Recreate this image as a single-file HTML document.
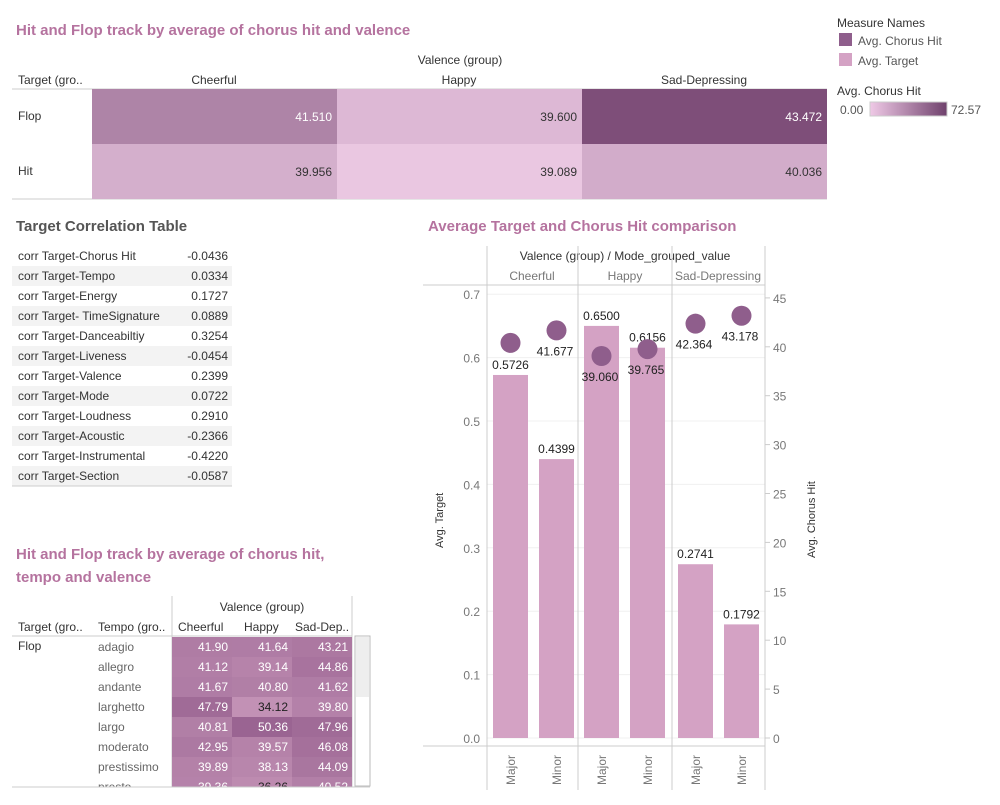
<!DOCTYPE html>
<html><head><meta charset="utf-8"><style>
body{margin:0;background:#fff;font-family:"Liberation Sans",sans-serif;}
svg text{font-family:"Liberation Sans",sans-serif;}
</style></head><body>
<svg width="1000" height="800" xmlns="http://www.w3.org/2000/svg">
<defs><linearGradient id="lg" x1="0" x2="1"><stop offset="0" stop-color="#efc9e6"/><stop offset="1" stop-color="#6f416c"/></linearGradient>
<clipPath id="tclip"><rect x="0" y="636" width="360" height="151"/></clipPath></defs>
<g id="top">
<text x="16" y="35" font-size="15" font-weight="bold" fill="#b5739f">Hit and Flop track by average of chorus hit  and valence</text>
<text x="460" y="64" font-size="12" fill="#333" text-anchor="middle">Valence (group)</text>
<text x="18" y="84" font-size="12" fill="#333">Target (gro..</text>
<line x1="12" y1="89" x2="827" y2="89" stroke="#ccc"/>
<line x1="12" y1="199" x2="827" y2="199" stroke="#ccc"/>
</g>
<g id="legend">
<text x="837" y="27" font-size="12" fill="#333">Measure Names</text>
<rect x="839" y="33" width="13" height="13" fill="#8f5e8c"/>
<text x="858" y="45" font-size="12" fill="#555">Avg. Chorus Hit</text>
<rect x="839" y="53" width="13" height="13" fill="#d4a2c4"/>
<text x="858" y="65" font-size="12" fill="#555">Avg. Target</text>
<text x="837" y="95" font-size="12" fill="#333">Avg. Chorus Hit</text>
<text x="840" y="114" font-size="12" fill="#555">0.00</text>
<rect x="870" y="102" width="77" height="14" fill="url(#lg)" stroke="#ccc"/>
<text x="951" y="114" font-size="12" fill="#555">72.57</text>
</g>
<g id="corr">
<text x="16" y="231" font-size="15" font-weight="bold" fill="#555">Target Correlation Table</text>
</g>
<g id="tempo">
<text x="16" y="559" font-size="15" font-weight="bold" fill="#b5739f">Hit and Flop track by average of chorus hit,</text>
<text x="16" y="582" font-size="15" font-weight="bold" fill="#b5739f">tempo  and valence</text>
<line x1="172" y1="596" x2="172" y2="787" stroke="#ccc"/>
<line x1="352" y1="596" x2="352" y2="787" stroke="#ccc"/>
<text x="262" y="611" font-size="12" fill="#333" text-anchor="middle">Valence (group)</text>
<text x="18" y="631" font-size="12" fill="#333">Target (gro..</text>
<text x="98" y="631" font-size="12" fill="#333">Tempo (gro..</text>
<text x="178" y="631" font-size="12" fill="#333">Cheerful</text>
<text x="244" y="631" font-size="12" fill="#333">Happy</text>
<text x="295" y="631" font-size="12" fill="#333">Sad-Dep..</text>
<line x1="12" y1="636" x2="352" y2="636" stroke="#ccc"/>
<text x="18" y="650" font-size="12" fill="#333">Flop</text>
<g id="tbody" clip-path="url(#tclip)"></g>
<rect x="355" y="636" width="15" height="150" fill="#fff" stroke="#bbb"/>
<rect x="356" y="637" width="13" height="60" fill="#eee"/>
<line x1="12" y1="787" x2="370" y2="787" stroke="#ccc"/>
</g>
<g id="chart">
<text x="428" y="231" font-size="15" font-weight="bold" fill="#b5739f">Average Target and Chorus Hit comparison</text>
<text x="625" y="260" font-size="12" fill="#333" text-anchor="middle">Valence (group)  /  Mode_grouped_value</text>
<line x1="423" y1="285" x2="765" y2="285" stroke="#ccc"/>
<line x1="423" y1="746" x2="765" y2="746" stroke="#ccc"/>
<text x="443" y="548" font-size="11" fill="#333" transform="rotate(-90 443 548)">Avg. Target</text>
<text x="815" y="558" font-size="11" fill="#333" transform="rotate(-90 815 558)">Avg. Chorus Hit</text>
</g>
</svg>
<script>
const NS="http://www.w3.org/2000/svg";
function mk(p,t,a,txt){const e=document.createElementNS(NS,t);for(const k in a)e.setAttribute(k,a[k]);if(txt!==undefined)e.textContent=txt;document.getElementById(p).appendChild(e);return e;}
const valence=["Cheerful","Happy","Sad-Depressing"];
const targets=["Flop","Hit"];
const topVals=[[41.510,39.600,43.472],[39.956,39.089,40.036]];
function ramp(v,lo,hi,a,b){const t=Math.max(0,Math.min(1,(v-lo)/(hi-lo)));return `rgb(${a.map((c,i)=>Math.round(c+(b[i]-c)*t)).join(",")})`;}
function heatColor(v,lo,hi){return ramp(v,lo,hi,[236,201,227],[125,77,120]);}
valence.forEach((v,j)=>{const x=92+j*245;
const t=mk("top","text",{x:x+122,y:84,"font-size":12,fill:"#333","text-anchor":"middle"},v);

});
targets.forEach((r,i)=>{const y=89+i*55;
mk("top","text",{x:18,y:y+31,"font-size":12,fill:"#333"},r);
topVals[i].forEach((v,j)=>{const x=92+j*245;
const c=mk("top","rect",{x:x,y:y,width:245,height:55,fill:heatColor(v,39.0,43.5)});


mk("top","text",{x:x+240,y:y+32,"font-size":12,fill:v>41?"#fff":"#333","text-anchor":"end"},v.toFixed(3));});});
const corrNames=["corr Target-Chorus Hit","corr Target-Tempo","corr Target-Energy","corr Target- TimeSignature","corr Target-Danceabiltiy","corr Target-Liveness","corr Target-Valence","corr Target-Mode","corr Target-Loudness","corr Target-Acoustic","corr Target-Instrumental","corr Target-Section"];
const corrVals=["-0.0436","0.0334","0.1727","0.0889","0.3254","-0.0454","0.2399","0.0722","0.2910","-0.2366","-0.4220","-0.0587"];
corrNames.forEach((n,i)=>{const y=246+i*20;
const r=mk("corr","rect",{x:12,y:y,width:220,height:20,fill:i%2?"#f3f3f3":"#fff"});


mk("corr","text",{x:18,y:y+14,"font-size":12,fill:"#333"},n);
mk("corr","text",{x:228,y:y+14,"font-size":12,fill:"#333","text-anchor":"end"},corrVals[i]);});
mk("corr","line",{x1:12,y1:486,x2:232,y2:486,stroke:"#ccc"});
const tempos=["adagio","allegro","andante","larghetto","largo","moderato","prestissimo","presto"];
const tempoVals=[[41.90,41.64,43.21],[41.12,39.14,44.86],[41.67,40.80,41.62],[47.79,34.12,39.80],[40.81,50.36,47.96],[42.95,39.57,46.08],[39.89,38.13,44.09],[39.36,36.26,40.52]];
tempos.forEach((t,i)=>{const y=637+i*20;
mk("tbody","text",{x:98,y:y+14,"font-size":12,fill:"#666"},t);
tempoVals[i].forEach((v,j)=>{const x=172+j*60;
const c=mk("tbody","rect",{x:x,y:y,width:60,height:20,fill:ramp(v,30,52,[204,156,190],[150,96,142])});


mk("tbody","text",{x:x+56,y:y+14,"font-size":12,fill:v<37?"#222":"#fff","text-anchor":"end"},v.toFixed(2));});});
const modes=["Major","Minor"];
const avgTarget=[0.5726,0.4399,0.6500,0.6156,0.2741,0.1792];
const avgChorus=[40.4,41.677,39.060,39.765,42.364,43.178];
const chorusLabels=["","41.677","39.060","39.765","42.364","43.178"];
const leftTicks=[0,0.1,0.2,0.3,0.4,0.5,0.6,0.7];
const rightTicks=[0,5,10,15,20,25,30,35,40,45];
const yL=v=>738-v*634;
const yR=v=>738-v*9.78;
const panelX=[487,578,672];
leftTicks.forEach(t=>{mk("chart","line",{x1:487,x2:765,y1:yL(t),y2:yL(t),stroke:"#f0f0f0"});
mk("chart","text",{x:480,y:yL(t)+5,"font-size":12,fill:"#777","text-anchor":"end"},t.toFixed(1));});
rightTicks.forEach(t=>{mk("chart","line",{x1:765,x2:770,y1:yR(t),y2:yR(t),stroke:"#ccc"});
mk("chart","text",{x:773,y:yR(t)+5,"font-size":12,fill:"#777"},String(t));});
[487,578,672,765].forEach(x=>mk("chart","line",{x1:x,x2:x,y1:246,y2:790,stroke:"#ccc"}));
valence.forEach((v,j)=>{mk("chart","text",{x:[532,625,718][j],y:280,"font-size":12,fill:"#777","text-anchor":"middle"},v);});
avgTarget.forEach((v,i)=>{const p=Math.floor(i/2),m=i%2;const x=panelX[p]+6+m*46;
const b=mk("chart","rect",{x:x,y:yL(v),width:35,height:yL(0)-yL(v),fill:"#d4a2c4"});


mk("chart","text",{x:x+17.5,y:yL(v)-6,"font-size":12,fill:"#222","text-anchor":"middle"},v.toFixed(4));
const cy=yR(avgChorus[i]);
const d=mk("chart","circle",{cx:x+17.5,cy:cy,r:10,fill:"#8f5e8c"});


if(chorusLabels[i])mk("chart","text",{x:x+16,y:cy+25,"font-size":12,fill:"#222","text-anchor":"middle"},chorusLabels[i]);
const lx=x+22;mk("chart","text",{x:lx,y:785,"font-size":12,fill:"#777",transform:`rotate(-90 ${lx} 785)`},modes[m]);});
</script>
</body></html>
